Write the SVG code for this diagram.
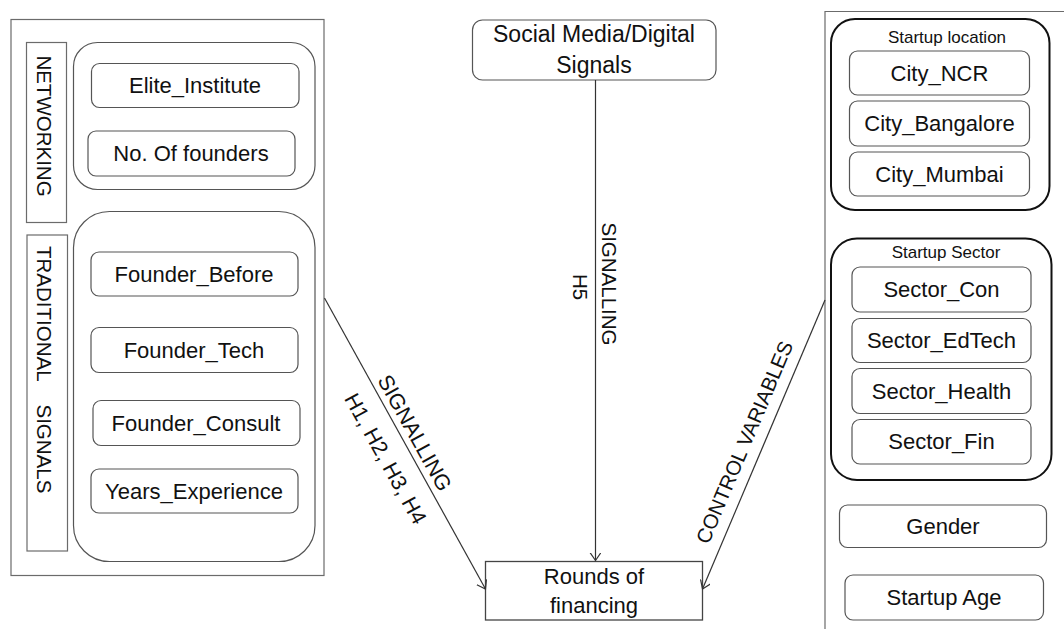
<svg xmlns="http://www.w3.org/2000/svg" width="1064" height="629" viewBox="0 0 1064 629">
<defs>
<style>
.frame{fill:#fff;stroke:#6b6b6b;stroke-width:1.2}
.grp{fill:none;stroke:#555;stroke-width:1.2}
.grpb{fill:none;stroke:#111;stroke-width:2}
.box{fill:#fff;stroke:#555;stroke-width:1.2}
.t{font-family:"Liberation Sans",Arial,sans-serif;font-size:22px;fill:#111;text-anchor:middle}
.s{font-family:"Liberation Sans",Arial,sans-serif;font-size:17px;fill:#111;text-anchor:middle}
.r{font-family:"Liberation Sans",Arial,sans-serif;font-size:20.5px;fill:#111}
.ln{fill:none;stroke:#333;stroke-width:1.2}
</style>
<marker id="arr" markerUnits="userSpaceOnUse" markerWidth="12" markerHeight="12" refX="8" refY="5.5" orient="auto">
<path d="M0,0 L8,5.5 L0,11" fill="none" stroke="#333" stroke-width="1.2"/>
</marker>
</defs>
<rect width="1064" height="629" fill="#fff"/>

<g id="left-panel">
<rect class="frame" x="11" y="19.5" width="313" height="556"/>
<rect class="frame" x="26.5" y="42.5" width="40" height="180"/>
<text class="r" transform="translate(45,126) rotate(90)" x="0" y="8" text-anchor="middle">NETWORKING</text>
<rect class="frame" x="27" y="235" width="40.5" height="316"/>
<text class="r" transform="translate(45,246) rotate(90)" x="0" y="8">TRADITIONAL <tspan dx="18">SIGNALS</tspan></text>
<rect class="grp" x="73.5" y="42.5" width="241.5" height="147" rx="24"/>
<rect class="grp" x="73.5" y="211.5" width="241.5" height="350" rx="36"/>
</g>

<g id="elite-institute"><rect class="box" x="91.5" y="63.5" width="207.5" height="44" rx="8"/><text class="t" x="195" y="93">Elite_Institute</text></g>
<g id="no-of-founders"><rect class="box" x="88" y="131" width="207" height="45" rx="8"/><text class="t" x="191" y="161">No. Of founders</text></g>
<g id="founder-before"><rect class="box" x="91" y="252" width="207" height="44" rx="8"/><text class="t" x="194" y="282">Founder_Before</text></g>
<g id="founder-tech"><rect class="box" x="91" y="327.5" width="207" height="45" rx="8"/><text class="t" x="194" y="358">Founder_Tech</text></g>
<g id="founder-consult"><rect class="box" x="93" y="400.5" width="207" height="45" rx="8"/><text class="t" x="196" y="431">Founder_Consult</text></g>
<g id="years-experience"><rect class="box" x="91" y="469" width="207" height="44" rx="8"/><text class="t" x="194" y="499">Years_Experience</text></g>

<g id="social-media">
<rect class="box" x="472.5" y="20" width="243.5" height="60" rx="10"/>
<text class="t" x="594" y="42" style="font-size:23px">Social Media/Digital</text>
<text class="t" x="594" y="73" style="font-size:23px">Signals</text>
</g>

<g id="rounds-of-financing">
<rect x="485.5" y="561.5" width="217" height="58.5" fill="#fff" stroke="#444" stroke-width="1.3"/>
<text class="t" x="594" y="584">Rounds of</text>
<text class="t" x="594" y="613">financing</text>
</g>

<g id="right-panel">
<path class="frame" d="M1070,11.5 H825 V640" fill="none"/>
<rect class="grpb" x="831" y="19" width="218.5" height="191" rx="24"/>
<text class="s" x="947" y="42.5">Startup location</text>
<rect class="grpb" x="831" y="238.5" width="220.5" height="241.5" rx="26"/>
<text class="s" x="946" y="258">Startup Sector</text>
</g>

<g id="city-ncr"><rect class="box" x="849.5" y="51" width="180" height="44" rx="8"/><text class="t" x="939.5" y="81">City_NCR</text></g>
<g id="city-bangalore"><rect class="box" x="849.5" y="101" width="180" height="45" rx="8"/><text class="t" x="939.5" y="131">City_Bangalore</text></g>
<g id="city-mumbai"><rect class="box" x="849.5" y="152" width="180" height="44" rx="8"/><text class="t" x="939.5" y="182">City_Mumbai</text></g>
<g id="sector-con"><rect class="box" x="852" y="267" width="179" height="45" rx="8"/><text class="t" x="941.5" y="297">Sector_Con</text></g>
<g id="sector-edtech"><rect class="box" x="852" y="318.5" width="179" height="44" rx="8"/><text class="t" x="941.5" y="348">Sector_EdTech</text></g>
<g id="sector-health"><rect class="box" x="852" y="368.5" width="179" height="45" rx="8"/><text class="t" x="941.5" y="399">Sector_Health</text></g>
<g id="sector-fin"><rect class="box" x="852" y="419.5" width="179" height="44.5" rx="8"/><text class="t" x="941.5" y="449">Sector_Fin</text></g>
<g id="gender"><rect class="box" x="839.5" y="505" width="207" height="42.5" rx="8"/><text class="t" x="943" y="534">Gender</text></g>
<g id="startup-age"><rect class="box" x="845" y="575" width="198.5" height="45" rx="8"/><text class="t" x="944" y="605">Startup Age</text></g>

<g id="connectors">
<line class="ln" x1="595.5" y1="80" x2="595.5" y2="560.5" stroke="#111" marker-end="url(#arr)"/>
<line class="ln" x1="324.5" y1="298" x2="485.5" y2="589" marker-end="url(#arr)"/>
<line class="ln" x1="825" y1="300" x2="702.5" y2="589" marker-end="url(#arr)"/>
<text class="r" transform="translate(596,284) rotate(90)" x="0" y="-6" text-anchor="middle">SIGNALLING</text>
<text class="r" transform="translate(596,287) rotate(90)" x="0" y="23" text-anchor="middle">H5</text>
<g transform="translate(377,380) rotate(61)">
<text class="r" x="0" y="0" style="font-size:21.5px">SIGNALLING</text>
<text class="r" x="0" y="38" style="font-size:21.5px">H1, H2, H3, H4</text>
</g>
<text class="r" transform="translate(751,445) rotate(-67)" x="0" y="0" text-anchor="middle">CONTROL VARIABLES</text>
</g>
</svg>
